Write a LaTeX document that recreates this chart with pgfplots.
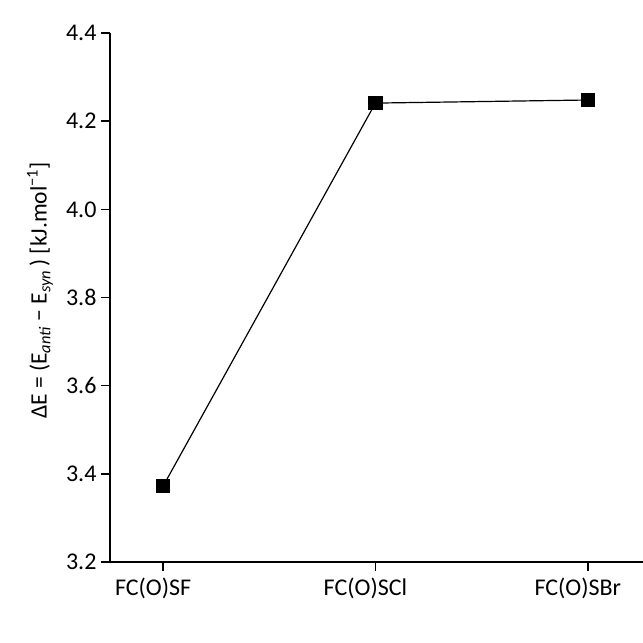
\documentclass[border=0pt]{standalone}
\usepackage{fontspec}
\setmainfont{Carlito}
\usepackage{pgfplots}
\pgfplotsset{compat=1.18}
\begin{document}
\begin{tikzpicture}
\useasboundingbox (-110pt,-81pt) rectangle (533pt,562pt);
\begin{axis}[
  scale only axis,
  width=533pt, height=529pt,
  xmin=-0.25, xmax=2.26,
  ymin=3.2, ymax=4.4,
  axis x line*=bottom, axis y line*=left,
  axis line style={line width=1.6pt},
  xtick={0,1,2},
  xticklabels={FC(O)SF,FC(O)SCl,FC(O)SBr},
  ytick={3.2,3.4,...,4.4},
  yticklabel style={/pgf/number format/fixed, /pgf/number format/fixed zerofill, /pgf/number format/precision=1, xshift=-1pt},
  /pgf/number format/assume math mode=true,
  tick align=outside,
  major tick length=9pt,
  tick style={line width=1.6pt, black},
  minor tick num=0,
  ticklabel style={font=\fontsize{24}{28}\selectfont},
  xticklabel style={yshift=-3pt, xshift=-10pt},
  every axis y label/.style={at={(axis description cs:0,0.5)}, anchor=center, rotate=90, yshift=70pt, xshift=7pt, font=\fontsize{23.5}{27}\selectfont},
  ylabel={ΔE = (E\textsubscript{\textit{anti}} − E\textsubscript{\textit{syn}}\,) [kJ.mol\textsuperscript{−1}]},
  clip=false,
]
\addplot[black, line width=1.2pt, mark=square*, mark size=6.5pt, mark options={solid}]
  coordinates {(0,3.372) (1,4.241) (2,4.248)};
\end{axis}
\end{tikzpicture}
\end{document}
